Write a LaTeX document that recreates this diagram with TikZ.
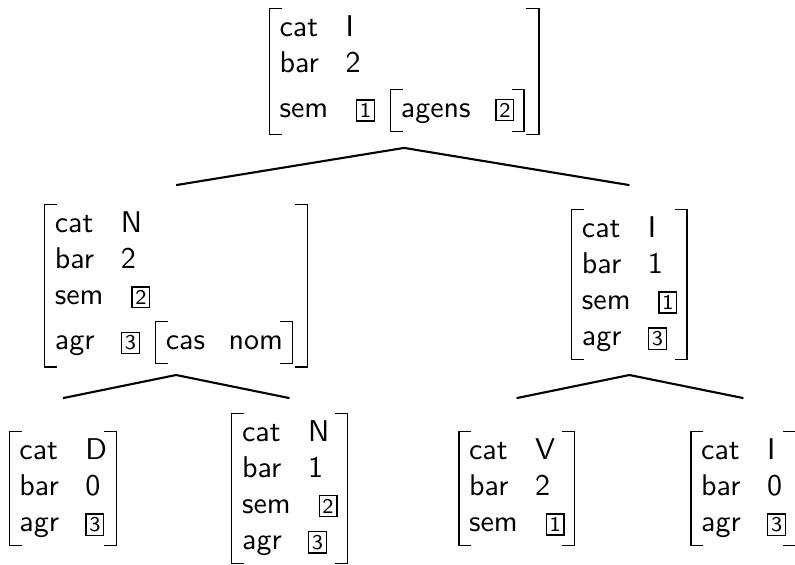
\documentclass[tikz,border=0pt]{standalone}
\usepackage{tikz}
\usetikzlibrary{calc}

% coindexing tag
\newcommand{\tg}[1]{{\setlength{\fboxsep}{0.9pt}\fbox{\scriptsize #1}}}

% brackets of an attribute-value matrix, drawn with rules
\newlength{\brkh}\newlength{\brkd}\newlength{\brkt}\newlength{\brkb}
\newcommand{\avmlbrk}{%
  \rlap{\vrule height\brkh depth-\brkt width4.4pt}%
  \rlap{\vrule height-\brkb depth\brkd width4.4pt}%
  \vrule height\brkh depth\brkd width0.45pt}
\newcommand{\avmrbrk}{%
  \vrule height\brkh depth\brkd width0.45pt%
  \llap{\vrule height\brkh depth-\brkt width4.4pt}%
  \llap{\vrule height-\brkb depth\brkd width4.4pt}}
\newcommand{\avmbox}[2][22pt]{{%
  \setbox0=\hbox{\begin{tabular}{@{}p{#1}@{}l@{}}#2\end{tabular}}%
  \setlength{\brkh}{\ht0}\addtolength{\brkh}{1.2pt}%
  \setlength{\brkd}{\dp0}\addtolength{\brkd}{1.2pt}%
  \setlength{\brkt}{\brkh}\addtolength{\brkt}{-0.4pt}%
  \setlength{\brkb}{\brkd}\addtolength{\brkb}{-0.4pt}%
  \kern1.5pt\avmlbrk\kern3.2pt\box0\kern3pt\avmrbrk\kern1.5pt}}

\tikzset{
  avm/.style={inner sep=0pt, font=\sffamily},
  branch/.style={line width=0.7pt}
}

\begin{document}
\begin{tikzpicture}[x=1pt,y=1pt]
  \useasboundingbox (0,0) rectangle (265,-188);

  %% root
  \node[avm] (root) at (134.7,-23.8)
  {\avmbox{cat & I\\ bar & 2\\[1.8pt]
      sem & \hspace{3.5pt}\tg{1}\hspace{3.5pt}\avmbox[31.5pt]{agens & \tg{2}}}};

  %% first level
  \node[avm] (np) at (58.7,-95.2)
  {\avmbox{cat & N\\ bar & 2\\ sem & \hspace{3.5pt}\tg{2}\\[1.8pt]
      agr & \tg{3}\hspace{3.5pt}\avmbox[21pt]{cas & nom}}};
  \node[avm] (ib) at (209.8,-94.8)
  {\avmbox{cat & I\\ bar & 1\\ sem & \hspace{3.5pt}\tg{1}\\ agr & \tg{3}}};

  %% leaves
  \node[avm] (det) at (21,-162.8)
  {\avmbox{cat & D\\ bar & 0\\ agr & \tg{3}}};
  \node[avm] (nb) at (96.5,-162.7)
  {\avmbox{cat & N\\ bar & 1\\ sem & \hspace{3.5pt}\tg{2}\\ agr & \tg{3}}};
  \node[avm] (vp) at (172.2,-162.8)
  {\avmbox{cat & V\\ bar & 2\\ sem & \hspace{3.5pt}\tg{1}}};
  \node[avm] (infl) at (247.8,-162.8)
  {\avmbox{cat & I\\ bar & 0\\ agr & \tg{3}}};

  %% branches
  \draw[branch] (np.north |- 0,-61.7) -- (root.south |- 0,-49.3)
  -- (ib.north |- 0,-61.7);
  \draw[branch] (det.north |- 0,-132.7) -- (np.south |- 0,-125)
  -- (nb.north |- 0,-132.7);
  \draw[branch] (vp.north |- 0,-132.7) -- (ib.south |- 0,-125)
  -- (infl.north |- 0,-132.7);

\end{tikzpicture}
\end{document}
